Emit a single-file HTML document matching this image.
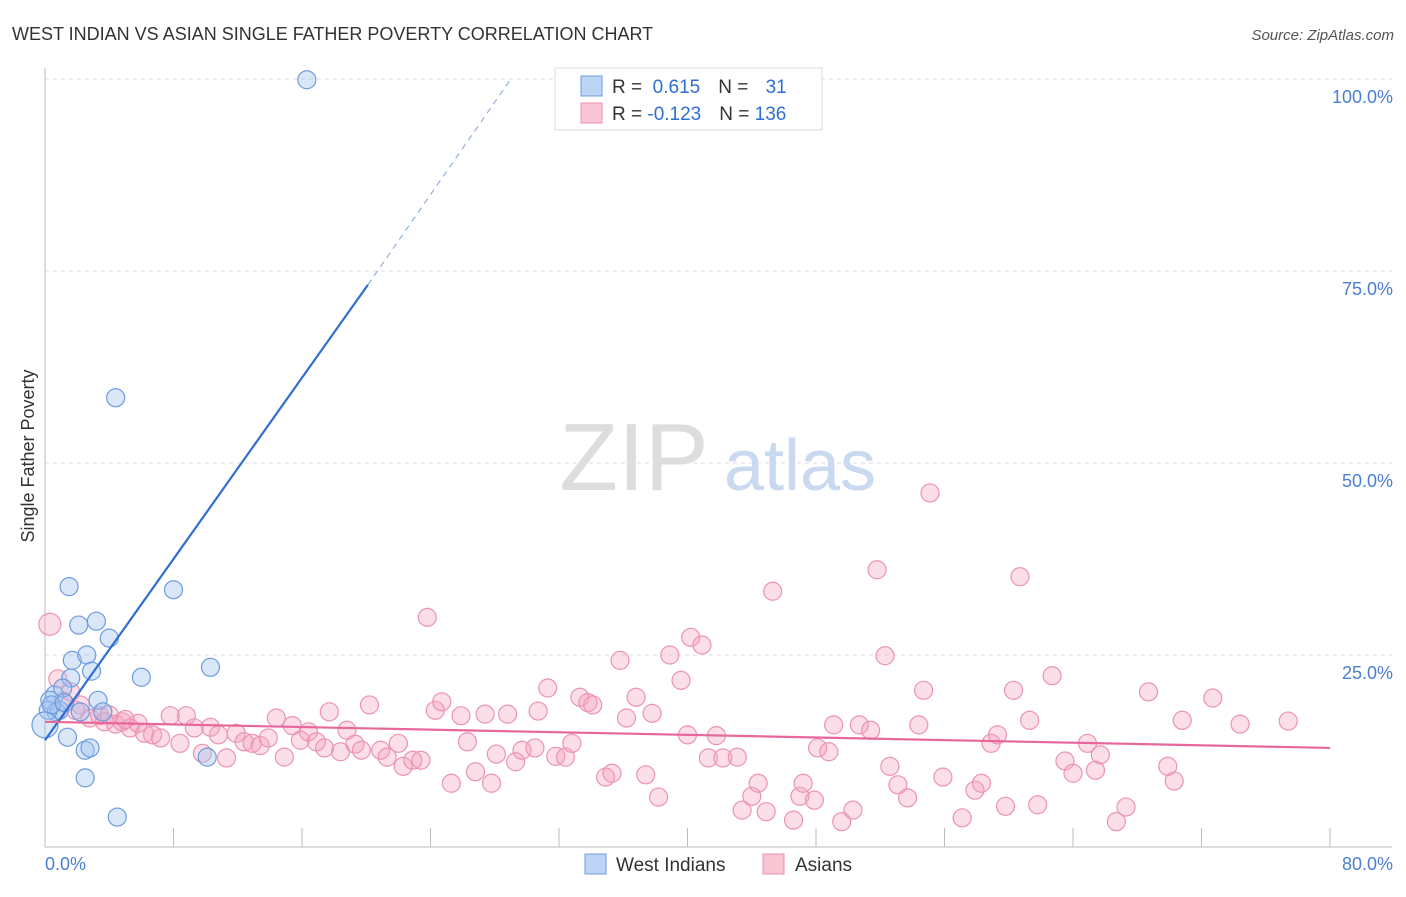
<!DOCTYPE html>
<html><head><meta charset="utf-8"><style>
body{margin:0;background:#fff;font-family:"Liberation Sans",sans-serif;}
svg text{font-family:"Liberation Sans",sans-serif;}
</style></head><body>
<svg id="chart" width="1406" height="892" xmlns="http://www.w3.org/2000/svg">
<text x="12" y="40" font-size="18" fill="#333">WEST INDIAN VS ASIAN SINGLE FATHER POVERTY CORRELATION CHART</text>
<text x="1394" y="40" font-size="15" fill="#555" font-style="italic" text-anchor="end">Source: ZipAtlas.com</text>
<g id="grid"></g>
<g id="axes"></g>
<text x="634" y="490" font-size="96" fill="#ddd" font-family="Liberation Serif" text-anchor="middle">ZIP</text>
<text x="800" y="490" font-size="72" fill="#c9d9f0" text-anchor="middle">atlas</text>
<g id="pts"></g>
<g id="trends"></g>
<text transform="translate(34,456) rotate(-90)" font-size="18" fill="#333" text-anchor="middle">Single Father Poverty</text>
<text x="45" y="870" font-size="18" fill="#4a7fd4">0.0%</text>
<text x="1393" y="870" font-size="18" fill="#4a7fd4" text-anchor="end">80.0%</text>
<g>
<rect x="555" y="68" width="267" height="62" fill="#fff" stroke="#ddd"/>
<rect x="581" y="76" width="21" height="20" fill="#bcd4f6" stroke="#6d9be0"/>
<rect x="581" y="103" width="21" height="20" fill="#f9c6d6" stroke="#e891ad"/>
<text x="612" y="93" font-size="19" fill="#333">R = <tspan fill="#2f6fd1">&#160;0.615</tspan><tspan dx="18">N = </tspan><tspan fill="#2f6fd1" dx="12">31</tspan></text>
<text x="612" y="120" font-size="19" fill="#333">R = <tspan fill="#2f6fd1">-0.123</tspan><tspan dx="18">N = </tspan><tspan fill="#2f6fd1">136</tspan></text>
</g>
<g>
<rect x="585" y="854" width="21" height="20" fill="#bcd4f6" stroke="#6d9be0"/>
<text x="616" y="871" font-size="19" fill="#333">West Indians</text>
<rect x="763" y="854" width="21" height="20" fill="#f9c6d6" stroke="#e891ad"/>
<text x="795" y="871" font-size="19" fill="#333">Asians</text>
</g>
</svg>
<script>
const yTicks=[25,50,75,100];
const yTickLabels=["25.0%","50.0%","75.0%","100.0%"];
const xTicks=[0,8,16,24,32,40,48,56,64,72,80];
const blueX=[16.3,4.4,1.5,8.0,2.1,3.2,4.0,10.3,1.7,2.6,2.9,6.0,1.6,0.6,1.1,3.3,0.3,0.7,2.2,3.6,0.9,1.4,2.5,2.8,10.1,2.5,4.5,0.2,0.4,0.0,1.2];
const blueY=[99.9,58.5,33.9,33.5,28.9,29.4,27.2,23.4,24.3,25.0,22.9,22.1,22.0,19.8,20.7,19.1,19.1,17.6,17.6,17.6,17.8,14.3,12.6,12.9,11.7,9.0,3.9,17.8,18.5,15.9,18.8];
const pinkX=[0.3,0.8,1.6,2.2,2.8,3.4,3.7,4.4,4.8,5.3,5.8,6.2,6.7,7.2,7.8,8.4,8.8,9.3,9.8,10.3,10.8,11.3,11.9,12.4,12.9,13.4,13.9,14.4,14.9,15.4,15.9,16.4,16.9,17.4,17.7,18.4,18.8,19.3,19.7,20.2,20.9,21.3,22.0,22.3,22.9,23.4,23.8,24.3,24.7,25.3,25.9,26.3,26.8,27.4,27.8,28.1,28.8,29.3,29.7,30.5,30.7,31.3,31.8,32.4,32.8,33.3,33.8,34.1,34.9,35.3,35.8,36.2,36.8,37.4,37.8,38.2,38.9,39.6,40.0,40.2,40.9,41.3,41.8,42.2,43.1,43.4,44.0,44.4,44.9,45.3,46.6,47.0,47.2,47.9,48.1,48.8,49.1,49.6,50.3,50.7,51.4,51.8,52.3,52.6,53.1,53.7,54.4,54.7,55.1,55.9,57.1,57.9,58.3,58.9,59.3,59.8,60.3,60.7,61.3,61.8,62.7,63.5,64.0,64.9,65.4,65.7,66.7,67.3,68.7,69.9,70.3,70.8,72.7,74.4,77.4,1.1,1.9,4.0,5.0];
const pinkY=[29.0,21.9,20.2,18.5,16.8,17.1,16.3,16.0,16.3,15.5,16.1,14.8,14.6,14.2,17.1,13.5,17.1,15.5,12.2,15.6,14.6,11.6,14.8,13.7,13.5,13.2,14.2,16.8,11.7,15.8,13.9,15.0,13.7,12.9,17.6,12.4,15.2,13.4,12.6,18.5,12.6,11.7,13.5,10.5,11.3,11.3,29.9,17.8,18.9,8.3,17.1,13.7,9.8,17.3,8.3,12.1,17.3,11.1,12.6,12.9,17.7,20.7,11.8,11.7,13.5,19.5,18.8,18.5,9.1,9.6,24.3,16.8,19.5,9.4,17.4,6.5,25.0,21.7,14.6,27.3,26.3,11.6,14.5,11.6,11.7,4.8,6.6,8.3,4.6,33.3,3.5,6.6,8.3,6.1,12.9,12.4,15.9,3.3,4.8,15.9,15.2,36.1,24.9,10.5,8.1,6.4,15.9,20.4,46.1,9.1,3.8,7.4,8.3,13.5,14.6,5.3,20.4,35.2,16.5,5.5,22.3,11.2,9.6,13.5,10.0,12.0,3.3,5.2,20.2,10.5,8.6,16.5,19.4,16.0,16.4,19.0,17.8,17.2,16.6];
const blueTrend=[0,13.9,20.1,73.2,29.0,100];
const pinkTrend=[0,16.3,80,12.9];
const NS="http://www.w3.org/2000/svg";
const X=v=>45+v*16.0625, Y=v=>847-v*7.68;
function mk(tag,attrs,parent){const e=document.createElementNS(NS,tag);for(const k in attrs)e.setAttribute(k,attrs[k]);parent.appendChild(e);return e;}
const grid=document.getElementById('grid'),axes=document.getElementById('axes'),pts=document.getElementById('pts'),tr=document.getElementById('trends');
yTicks.forEach((t,i)=>{
 const l=mk('line',{x1:45,x2:1392,y1:Y(t),y2:Y(t),stroke:'#ddd','stroke-dasharray':'4,4'},grid);
 
 
 const tx=mk('text',{x:1393,y:Y(t)+24,'font-size':18,fill:'#4a7fd4','text-anchor':'end'},axes);
 tx.textContent=yTickLabels[i];
 
 
});
const ya=mk('line',{x1:45,x2:45,y1:68,y2:847,stroke:'#bbb'},axes);


const xa=mk('line',{x1:45,x2:1392,y1:847,y2:847,stroke:'#bbb'},axes);


xTicks.forEach(t=>{
 const l=mk('line',{x1:X(t),x2:X(t),y1:828,y2:847,stroke:'#bbb'},axes);
 
 
});
pinkX.forEach((v,i)=>{
 const c=mk('circle',{cx:X(v),cy:Y(pinkY[i]),r:i==0?11:9,fill:'rgba(244,160,188,0.35)',stroke:'#ec93b0','stroke-width':1.2},pts);
 
 
});
blueX.forEach((v,i)=>{
 const c=mk('circle',{cx:X(v),cy:Y(blueY[i]),r:i==29?13:9,fill:'rgba(160,195,240,0.4)',stroke:'#6d9be0','stroke-width':1.2},pts);
 
 
});
const b1=mk('line',{x1:X(blueTrend[0]),y1:Y(blueTrend[1]),x2:X(blueTrend[2]),y2:Y(blueTrend[3]),stroke:'#2f6fd1','stroke-width':2.2},tr);


const b2=mk('line',{x1:X(blueTrend[2]),y1:Y(blueTrend[3]),x2:X(blueTrend[4]),y2:Y(blueTrend[5]),stroke:'#8fb0e0','stroke-width':1.2,'stroke-dasharray':'6,5'},tr);


const p1=mk('line',{x1:X(pinkTrend[0]),y1:Y(pinkTrend[1]),x2:X(pinkTrend[2]),y2:Y(pinkTrend[3]),stroke:'#e8679a','stroke-width':2.2},tr);


</script>
</body></html>
